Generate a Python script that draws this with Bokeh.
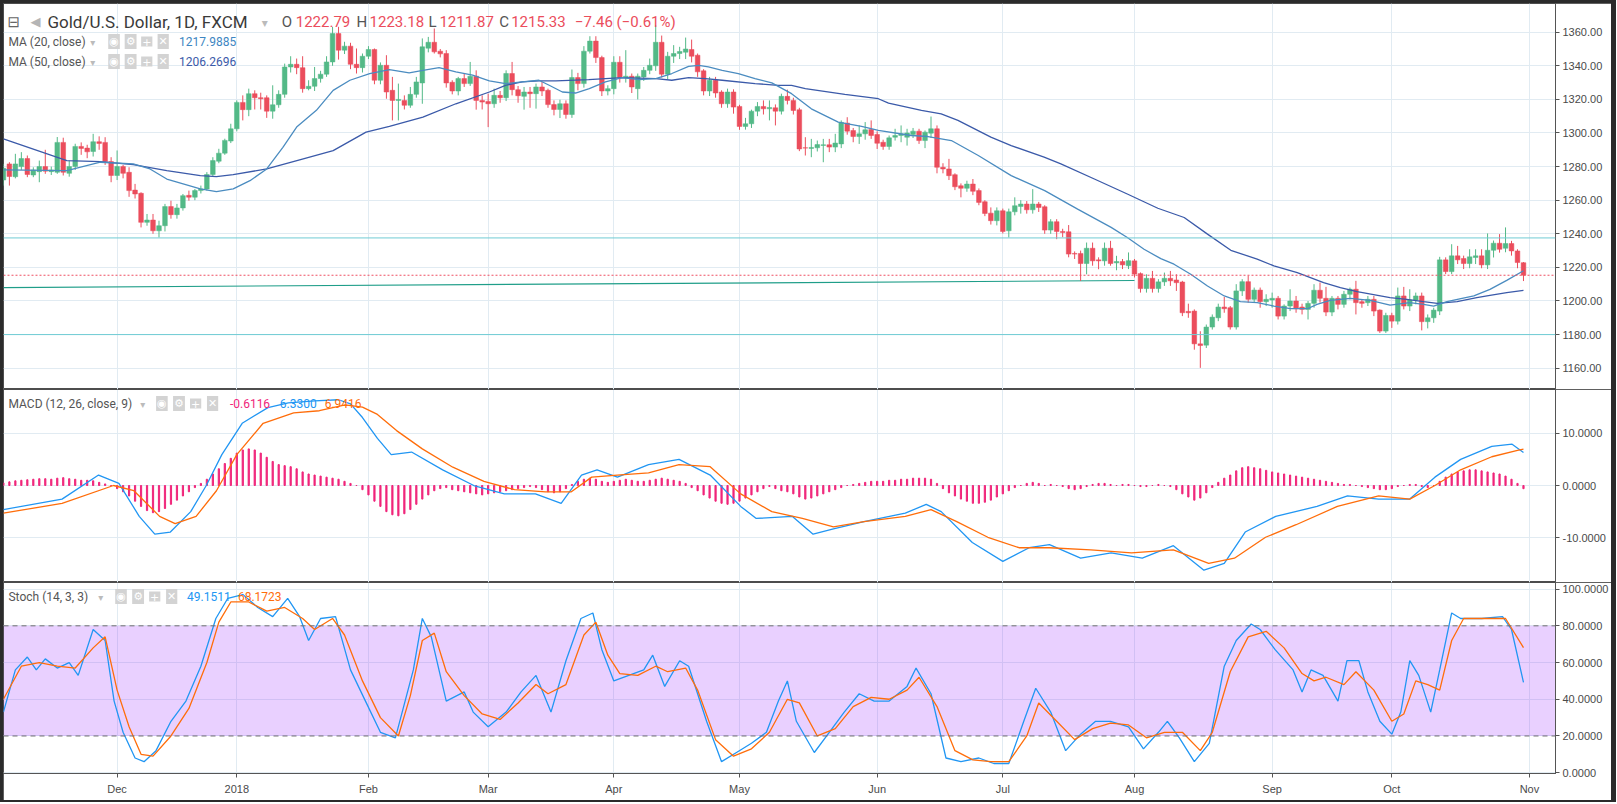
from bokeh.plotting import figure
from bokeh.models import (ColumnDataSource, FixedTicker, NumeralTickFormatter, Span, Label,
                          Range1d, BoxAnnotation)
from bokeh.layouts import column
from bokeh.embed import file_html
from bokeh.resources import INLINE

# ---------------- data (bar index 0 = 2017-11-06 ... 254 = 2018-10-31) ----------------
opens = [1272,1281.6,1274,1280,1284.8,1275,1277,1280,1277,1276.6,1294.4,1276,1280,1292,1291,1289,1294.8,1294.4,1283,1274.7,
 1280,1276.6,1266,1264.1,1246.8,1248.2,1241.8,1244.8,1256.2,1251.4,1255.4,1262.9,1261.8,1265.7,1266.7,1275.3,1283.2,1288,1295.2,1302.5,
 1318.2,1313.9,1323.4,1321,1321,1313,1316.8,1323,1339.3,1340.9,1338.9,1326.4,1327.8,1332.4,1335,1342.3,1359.2,1349.3,1351.7,1340.9,
 1338.9,1345.7,1349.7,1331.4,1340.3,1325.4,1319.4,1319.4,1316.5,1323,1329.8,1350.5,1354,1348.7,1347.3,1330.2,1325,1332.4,1329.4,1333.8,
 1319.4,1318.8,1317.4,1322.4,1321,1335.4,1325.8,1321.8,1324.4,1323.4,1327.4,1325.4,1316.9,1314,1317.4,1311,1333,1329.4,1348.7,1354.7,
 1344.9,1325,1326.4,1342.1,1333,1333.8,1326.4,1333.4,1337.3,1340,1354,1335,1345.7,1347.3,1348.1,1349.7,1346.3,1337,1325,1331.4,
 1324.4,1317.4,1324.4,1315.8,1303.9,1305.5,1313,1315.8,1314.4,1315,1313,1321.8,1319.4,1313.8,1291.2,1290.8,1291.2,1292.6,1293,1291.6,
 1293.5,1305.9,1301.5,1297.9,1299.5,1302.1,1299.1,1294.5,1292,1297.5,1298.5,1297.5,1299.1,1301.1,1295.5,1299.9,1302.5,1279.6,1278.6,1275.2,
 1268.6,1267.1,1269.6,1265.7,1259.1,1252.3,1247.8,1253.7,1241.8,1253.1,1256.3,1257.7,1254.3,1257.7,1256.1,1242.2,1247.2,1241.4,1241.2,1228.3,
 1228.3,1222.3,1231.4,1224.5,1223.9,1231.4,1222.7,1223.5,1221,1223.9,1216.3,1207.4,1213.5,1207.4,1211.4,1213.5,1212.5,1211.3,1193.8,1194,
 1174.5,1173.7,1184.5,1190,1196.4,1196,1184.5,1206,1211.5,1201,1206.5,1199.6,1200.6,1201.6,1191,1197,1200,1196.4,1195,1198.6,
 1206.4,1201.6,1193.4,1201.6,1198,1204,1207,1199.6,1199,1201,1194.6,1182.1,1191.4,1188,1203,1197,1200.6,1203,1187.7,1190,
 1194,1224.5,1217.5,1226.9,1225.3,1222.3,1225.9,1226.9,1221.5,1230.2,1234.4,1231.4,1234.2,1229.8,1222.79]
highs = [1281.6,1282.6,1287.6,1288.6,1286.6,1279.6,1283.6,1290,1280,1297.6,1297.2,1283.6,1293.6,1294.4,1293,1299.5,1298,1297.5,1285.6,1289.6,
 1281,1279.6,1269.7,1264.7,1251.8,1251.8,1247.8,1257.8,1259.7,1257.8,1263.7,1265.7,1266.7,1268.7,1276.7,1285.6,1290.6,1296.6,1305.5,1319.4,
 1322.4,1326.4,1325.4,1324,1322.4,1328.4,1325.4,1341.3,1345.7,1344.3,1345.7,1331.4,1339.3,1337,1345.7,1363.2,1363.2,1354.3,1353.7,1350.3,
 1347.3,1351.7,1350.3,1342,1346.3,1333.4,1329.4,1322.4,1327.4,1333.4,1356.3,1357.2,1362.2,1350,1349.3,1331.4,1333.4,1335.4,1342.3,1337.3,
 1322.4,1323.4,1326.4,1325,1337.3,1342.3,1328,1327.4,1327.4,1329.4,1330.4,1326.4,1319.4,1319.8,1319.4,1337.8,1335.8,1351.7,1357.6,1357.6,
 1346,1328.4,1345.7,1345.7,1349.3,1335.4,1335.4,1339.3,1344.3,1364.2,1358,1348.3,1352.3,1351.3,1356.8,1355.6,1347.3,1338,1333.4,1333.4,
 1325.4,1326.4,1326,1316.8,1309,1313.9,1318.4,1319.4,1319.4,1317,1323.4,1325.8,1321,1315,1297.5,1296.5,1295.5,1296.5,1296.5,1299.5,
 1307.5,1309.4,1303,1304.5,1306.5,1307.5,1301,1296,1298.5,1302.5,1304.5,1302.5,1303,1302.5,1301.5,1309.8,1304.5,1282,1284.6,1276,
 1270,1271.6,1272.6,1267,1260,1255.7,1255.7,1255,1255,1261.7,1260,1259.5,1266.6,1259,1257,1248.7,1248.7,1243,1245.2,1229.5,
 1230,1234.8,1234.8,1226,1234.8,1235.8,1226.9,1225,1228.9,1225,1217,1215.9,1217.9,1213,1216.9,1217.9,1215.9,1212,1198.4,1195,
 1182,1186,1192,1198.4,1202.4,1197,1210,1213,1215,1208,1208,1204,1205,1203,1198,1207,1203,1198.4,1200,1210,
 1211,1208.4,1203,1203,1206,1208,1212,1201,1203,1203,1195,1193,1193,1208,1208.4,1207,1205,1205,1192,1196,
 1226.3,1226,1233.8,1232.8,1227,1230.8,1230.8,1230.8,1240.2,1236,1239.8,1243.8,1235.8,1230.8,1223.18]
lows = [1268.7,1268.7,1273,1278,1273.7,1273.7,1270.7,1275.7,1275,1275.7,1274.7,1274,1278,1287,1285,1286,1290,1281,1270.7,1272,
 1273,1262,1261,1243.8,1244.8,1240,1237.8,1241.4,1249,1249,1253.8,1259.7,1260,1264,1265.7,1274,1282,1287,1294,1301,
 1307.5,1310,1314,1314,1309,1308.5,1315,1321,1336,1335,1324,1325.4,1325,1330,1333.4,1340,1343.7,1347,1338,1335.4,
 1336,1344,1329,1329,1320.4,1307.5,1307.5,1314,1315,1321,1317.4,1348,1347.3,1345,1327,1323,1322.4,1327.4,1328,1313.9,
 1314,1303.5,1315,1318,1319,1322.4,1318,1313.9,1315,1314.5,1322,1315,1310.5,1308.9,1308.5,1309,1325.4,1327,1347.3,1341.7,
 1322,1322.4,1323,1330,1330,1323.8,1320,1331,1335,1337,1333,1332,1341.7,1344,1344,1342,1333.4,1322.4,1322,1321,
 1315,1315,1311.5,1301.9,1302,1303,1310,1311,1307.5,1304.5,1311,1317,1311,1289.2,1286.6,1285.6,1289,1282.6,1288.6,1288.6,
 1291,1299,1294.5,1293.5,1296,1296.5,1290.5,1290,1290,1295.5,1294.5,1292.5,1297,1293.5,1291,1297,1276,1276,1272,1266,
 1261.7,1265,1263,1257,1250.5,1245.5,1245,1240.2,1237.8,1251,1252,1252,1252,1253,1240,1240,1236.8,1238,1226,1225,
 1211.9,1215.9,1221,1218.9,1221,1221,1218.3,1219,1219,1214,1205,1205,1205,1205,1209,1209,1206,1191,1190,1171,
 1160.2,1172,1183,1188,1193,1183,1183,1203,1199,1199,1196,1197,1196,1189,1189,1194,1193,1192,1189,1196,
 1199,1191,1191,1195,1196,1201,1192,1196,1197,1191,1181,1181,1184,1186,1195,1194,1198,1182.5,1183.7,1187,
 1191.6,1216,1216,1222,1219,1219.5,1222,1219.5,1219,1225.9,1228.8,1229,1227,1219.5,1211.87]
closes = [1279,1274.1,1281.6,1284.8,1275.3,1278,1280,1277.3,1278,1294.4,1276.6,1280,1292,1290.8,1288.8,1294.8,1293.8,1283,1274.7,1280,
 1276,1265.7,1263.7,1246.8,1248.2,1241.8,1244.8,1256.2,1251.4,1255.4,1262.7,1261.8,1265.7,1266.7,1275.3,1283.6,1288,1295.6,1302.5,1318.2,
 1313.9,1323.4,1321,1320.4,1313,1316.8,1323,1339.3,1340.9,1338.9,1326.4,1327.8,1332.4,1335,1342.3,1359.2,1349.3,1351.7,1340.9,1338.9,
 1345.7,1349.7,1331.4,1340.3,1324.4,1319.4,1320,1316.5,1323,1330.4,1351.3,1354,1348.3,1347.1,1329.8,1325,1332.4,1329.4,1333.8,1319.4,
 1318.4,1317.4,1322.4,1321,1335.4,1325.8,1322.2,1324.4,1323.4,1327.4,1325,1316.9,1314,1317.4,1311,1333,1329.4,1348.7,1354.7,1344.9,
 1325,1326.4,1342.1,1333,1333.8,1327.4,1333.8,1337.3,1340.3,1354,1335,1345.7,1347.3,1348.5,1350,1345.7,1336.4,1325,1331.4,1323.8,
 1317.4,1324.4,1315.4,1303.9,1305.5,1313,1315.8,1314.4,1315.2,1313,1321.8,1319.4,1313.4,1290.5,1291,1291.4,1293.1,1293,1291.6,1294,
 1306.3,1301.1,1297.9,1299.5,1301.9,1298.5,1293.9,1292,1297.1,1298.5,1299.5,1300,1301.1,1295.5,1300.5,1302.5,1279.6,1278.6,1274.6,1268,
 1267.1,1269.6,1265.3,1258.7,1252.1,1247.8,1253.7,1241.4,1253.1,1256.7,1257.7,1254.3,1257.7,1255.7,1242.2,1247.2,1241.4,1240.8,1227.9,1227.9,
 1222.3,1231.4,1223.9,1223.9,1231.4,1222.3,1223.5,1221.5,1224,1216,1207.4,1213.5,1207.4,1211.4,1213.5,1212,1210.9,1193,1193,1174.5,
 1173.5,1184.5,1190.4,1196.4,1195.4,1184.5,1206,1211.5,1201,1206.5,1199.6,1201,1201.6,1191,1197,1200,1195.4,1195,1198.6,1206.4,
 1201.6,1193.4,1201.6,1198,1204,1207,1199,1198.6,1201,1194,1182.1,1191.4,1188,1203,1197,1200.6,1203,1187.7,1190,1194.6,
 1224.5,1217.5,1226.9,1224.5,1222.3,1226.3,1226.9,1221.5,1230.2,1234.4,1230.8,1234.2,1229.8,1222.9,1215.33]

# moving averages (read at vertices)
ma20_x = [0,10.6,16.2,21.7,24.5,27.3,32.9,35.6,38.4,41.2,44,46.7,49,52.3,55.1,57.9,61.2,64.5,67.8,70.1,72.8,75.6,78.4,81.2,83.9,86.7,89.5,91.2,93.4,95.6,97.9,100.6,103.4,106.2,109,111.7,114.5,116.2,117.8,120.1,122.8,125.6,128.4,131.7,135,139.5,143.4,146.2,151.7,154.5,158.4,162.9,168.4,174,179.5,185.1,187.8,190.6,193.4,195.6,198.4,201.2,204,206.7,209.5,212.3,215.1,217.9,219.5,221.7,225.1,228.4,231.7,235,237.3,239,241.2,245.7,248.4,251.2,254]
ma20_y = [1278,1277.6,1282.6,1281.6,1278.6,1272.6,1266.7,1265.1,1266.7,1271.6,1278.6,1291.5,1303.5,1313.5,1325.4,1331.4,1335.4,1337.7,1335.8,1337.3,1338.9,1336.4,1334.4,1331,1329.4,1330.4,1331.4,1328.4,1324.4,1323.8,1326.4,1330.4,1333,1331.8,1332.4,1335.4,1339.7,1340.3,1339.3,1337.3,1335.4,1332.4,1329.8,1323.4,1314.4,1306.5,1303.9,1301.5,1298.5,1297.9,1295.5,1286.6,1274.6,1265.7,1254.7,1243.8,1237.8,1230.8,1225.2,1221.9,1215.9,1208.9,1203,1199.6,1199,1197,1195.4,1195.4,1198,1200.4,1201.6,1200.4,1197.6,1199,1198,1197,1199.6,1203,1206.9,1212.3,1217.99]
ma50_x = [0,10.6,16.2,21.7,27.3,32.9,35.6,38.4,44,49.5,55.1,60.6,64.5,70.1,75.6,81.2,83.9,86.7,89.5,92.3,97.8,103.4,109,111.7,114.5,117.3,120.1,125.6,129.5,131.7,134,140.6,146.2,147.9,153.4,156.7,159.5,165,168.4,173.9,176.7,182.3,187.8,192.9,197.3,201.2,205.1,209.5,212.3,216.2,220.6,223.4,226.2,231.7,234.5,237.3,239.6,242.9,246.2,248.4,251.2,254]
ma50_y = [1296.5,1283.6,1283,1281.2,1277.6,1274.6,1274,1275.2,1278.6,1284,1289.5,1300.5,1303.9,1309.5,1317.4,1324.4,1328.4,1330.4,1331,1331,1331.8,1333,1332.4,1331.4,1333,1332.4,1331.4,1329.4,1328.4,1328.4,1326.4,1323,1320.4,1317.8,1313.4,1311.4,1307.5,1297.5,1292.5,1285.6,1281.6,1272.6,1263.7,1255.2,1249.7,1239.8,1230.2,1224.9,1220.9,1216.9,1210.9,1207.9,1205.6,1202,1201,1199.6,1198.6,1199.6,1202,1203.4,1205,1206.27]

# MACD (read at vertices)
macd_x = [0,9.8,15.9,19.3,22.7,25.3,27.9,31.3,33.9,36.5,39.9,44.2,47.6,52,56,58,60,62.5,64.8,68.2,73.4,78.6,83.7,88.9,93.2,96.6,99.2,102.6,107.8,112.9,118.1,123.2,125.8,131.8,135.3,138.7,143.8,150.7,154.2,156.7,161.9,167,171.4,174.8,180,185.1,190.3,195.5,200.6,204,207.5,212.6,219.5,224.6,229.8,235,239.2,243.5,248.7,252.1,254]
macd_y = [-4.6,-2.6,2.0,0.4,-5.9,-9.3,-8.9,-5,0,5.9,11.9,14.9,15.8,16.2,16.4,15.6,13,9,5.9,6.4,3,0,-1.6,-1.6,-3.4,2,3,1.6,4,5,2,-4,-6.3,-5.9,-9.3,-8.3,-6.9,-5.3,-3.6,-5,-10.9,-14.5,-11.9,-11.3,-13.9,-12.9,-13.9,-11.5,-16.2,-14.9,-8.9,-5.9,-4,-2,-2.6,-2.6,1.6,5,7.5,7.9,6.33]
signal_x = [0,9.8,18.4,21.8,26.1,28.7,32.2,35.6,39,43.4,48.5,52.8,57.1,60,62.5,65.7,70,75.1,80.3,85.4,90.6,94.9,98.3,102.6,107.8,112.9,118.1,123.2,128.4,133.5,138.7,143.8,150.7,155,159.3,164.5,169.7,174.8,181.7,188.5,195.5,201.4,205.7,210.9,216,222.9,229.8,235,239.2,243.5,248.7,253,254]
signal_y = [-5.3,-3.4,0,-1,-5.9,-7.3,-5.9,-1,5.9,11.9,13.9,14.3,15.4,15.0,13.6,10.5,7,3.5,0.8,-0.8,-1.2,-1.2,1.6,2,2.4,4,3.6,-1.6,-5,-6.3,-7.9,-6.9,-5.9,-4.6,-6.9,-9.9,-11.9,-11.9,-12.3,-12.9,-12.3,-14.9,-13.9,-9.9,-7.5,-4,-2,-2.6,0,3,5.5,6.7,6.94]
hist = ([0.5,0.7,0.9,1.0,1.1,1.2,1.3,1.3,1.2,1.4,1.5,1.3,1.2,1.0,1.0,0.9,0.6,0.3,0.0]
 + [-0.6,-1.2,-2.0,-3.0,-4.0,-4.8,-5.2,-5.0,-4.4,-3.6,-2.8,-2.0,-1.2,-0.4,0.4]
 + [1.2,2.2,3.2,4.2,5.2,6.2,6.8,7.0,6.8,6.2,5.4,4.6,4.0,3.8,3.6,3.2,2.6,2.2,2.0,1.8,1.6,1.4,1.2,0.8,0.4,0.0]
 + [-0.8,-1.8,-3.0,-4.0,-5.0,-5.6,-5.8,-5.4,-4.6,-3.6,-2.6,-1.8,-1.0]
 + [-0.6,-0.4,-0.8,-1.0,-1.2,-1.4,-1.6,-1.8,-1.6,-1.4,-1.2,-1.0,-0.8,-0.6,-0.4,-0.2,-0.4,-0.8,-1.2,-1.4,-1.2,-0.6,0.2]
 + [0.8,1.2,1.4,1.2,0.8,0.6,0.8,1.0,1.2,1.0,0.8,0.8,1.0,1.2,1.4,1.2,1.0,0.8,0.4]
 + [-0.4,-1.0,-1.8,-2.4,-3.0,-3.4,-3.6,-3.4,-3.0,-2.4,-1.8,-1.2,-0.6,-0.2]
 + [-0.6,-1.0,-1.2,-1.6,-2.2,-2.6,-2.4,-2.0,-1.6,-1.2,-0.8,-0.4,0.0,0.2]
 + [0.4,0.6,0.8,0.8,0.8,1.0,1.0,1.2,1.2,1.4,1.4,1.4,1.2,0.4,-0.6,-1.4]
 + [-2.0,-2.6,-3.0,-3.4,-3.4,-3.2,-2.8,-2.2,-1.6,-1.0,-0.4,0.0,0.4,0.6,0.4,0.0]
 + [0.2,0.0,-0.2,-0.6,-0.8,-0.6,-0.2,0.2,0.4,0.4,0.2,0.0,0.2,0.2,0.0,-0.2,-0.2,0.0,0.2,0.0,-0.2,-0.8,-1.6,-2.2]
 + [-2.8,-2.4,-1.4,-0.4,0.6,1.4,2.0]
 + [2.8,3.4,3.6,3.4,3.2,2.9,2.6,2.4,2.2,2.0,1.8,1.6,1.4,1.2,1.0,0.8,0.6,0.4]
 + [0.2,0.2,0.0,-0.2,-0.4,-0.6,-0.8,-0.8,-0.6,-0.2,0.0,0.2,0.2,-0.2,-0.4]
 + [0.0,0.8,1.6,2.2,2.6,2.8,3.0,3.0,2.8,2.6,2.4,2.2,1.8,1.2,0.4,-0.6116])

# Stochastic (read at vertices)
stk_x = [0,2,4,5.5,7,9,11,12.5,15,17,18.5,20,22,23.5,25.5,28,30.5,33,35.5,37.5,40,42.5,45,47.5,49.5,51,53,55.5,58,60.5,63,65.5,68.5,70,71.5,74,77,78.5,81,84,86.5,89,91.5,94,96.5,98.5,100,102,104.5,107,108.5,110.5,113,114.5,117.5,120,122.5,125,127.5,129.5,131,132.5,135.5,138,140.5,143,145.5,148,151,152.5,155,157.5,160,163,165.5,168,170.5,172.5,175,177.5,180,182.5,185,188,190.5,193,194.5,196.5,199,201.5,204,206,208.5,210,212.5,215.5,217,218.5,220.5,223,224.5,226.5,228,230,232,233.5,235,236.5,238.5,240,242,243.5,247,250.5,252,254]
stk_y = [33,56,63,56,62,57,60,53,78,72,39,22,8,6,12,28,39,58,84,95,97,90,85,95,85,72,84,85,56,39,22,19,56,84,74,39,44,33,25,33,44,53,33,61,84,87,67,50,53,56,64,47,61,58,28,6,11,16,22,39,50,28,11,22,33,43,39,39,47,57,43,8,6,8,5,5,28,46,33,12,21,28,28,25,13,22,28,19,6,16,58,72,81,78,67,56,44,56,53,39,61,61,44,28,21,33,61,53,33,56,87,84,84,85,78,49.15]
std_x = [0,3,6,9,12,15,17,19,21,23,25,28,31,34,36,38,41,44,47,50,52,55,57,60,63,66,68,70,72,74,77,80,83,86,89,91,94,97,99,101,103,106,109,111,114,116,119,122,125,128,131,133,136,139,142,145,148,151,153,156,159,162,165,168,171,173,176,179,182,185,188,191,194,197,200,202,205,208,211,214,217,219,221,224,226,229,232,234,236,238,240,242,244,248,251,254]
std_y = [40,58,60,58,57,68,74,45,25,10,9,20,35,60,82,93,93,88,90,84,78,84,75,50,30,20,42,72,76,55,42,32,29,38,48,43,48,75,82,64,54,53,58,55,57,45,18,9,13,22,40,38,20,24,36,41,40,45,52,36,12,7,6,6,20,38,28,18,24,27,26,19,22,22,12,22,55,74,77,68,54,50,52,48,55,45,28,32,50,48,45,72,84,84,84,68.17]

price_ticks = [1160, 1180, 1200, 1220, 1240, 1260, 1280, 1300, 1320, 1340, 1360]
macd_ticks = [-10, 0, 10]
stoch_ticks = [0, 20, 40, 60, 80, 100]
month_ticks = [19, 39, 61, 81, 102, 123, 146, 167, 189, 212, 232, 255]
month_labels = ["Dec", "2018", "Feb", "Mar", "Apr", "May", "Jun", "Jul", "Aug", "Sep", "Oct", "Nov"]
support_levels = [1237.54, 1180.01]
last_close = 1215.33
trend_x = [0, 189]
trend_y = [1208.0, 1212.2]

# ---------------- styling / geometry ----------------
UP, DOWN = "#53b987", "#eb4d5c"
GRID = "#e1ebf2"
AXIS = "#555555"
TXT = "#4a4a4a"
FONT_AX = "Liberation Sans"
FONT_LG = "Roboto"
W = 1608
RB = 52
X0, X1 = 0.017, 259.35
xr = Range1d(X0, X1)

def make_fig(h, y0, y1, ticks, fmt, bottom=0, xaxis=False):
    p = figure(width=W, height=h, x_range=xr, y_range=Range1d(y0, y1),
               output_backend="svg", toolbar_location=None,
               x_axis_location="below" if xaxis else None, y_axis_location="right",
               min_border_left=0, min_border_right=RB, min_border_top=0, min_border_bottom=bottom)
    p.background_fill_color = "white"
    p.border_fill_color = "white"
    p.outline_line_color = "#4d4d4d"
    p.outline_line_width = 1
    p.xgrid.ticker = FixedTicker(ticks=month_ticks)
    p.ygrid.ticker = FixedTicker(ticks=ticks)
    p.xgrid.grid_line_color = GRID
    p.ygrid.grid_line_color = GRID
    ax = p.yaxis[0]
    ax.ticker = FixedTicker(ticks=ticks)
    ax.formatter = NumeralTickFormatter(format=fmt)
    ax.major_label_text_font = FONT_AX
    ax.major_label_text_font_size = "11px"
    ax.major_label_text_color = TXT
    ax.axis_line_color = AXIS
    ax.major_tick_line_color = AXIS
    ax.major_tick_out = 4
    ax.major_tick_in = 0
    ax.minor_tick_out = 0
    ax.minor_tick_in = 0
    ax.major_label_standoff = 3
    if xaxis:
        xa = p.xaxis[0]
        xa.ticker = FixedTicker(ticks=month_ticks)
        xa.major_label_overrides = {t: l for t, l in zip(month_ticks, month_labels)}
        xa.major_label_text_font = FONT_AX
        xa.major_label_text_font_size = "11px"
        xa.major_label_text_color = TXT
        xa.axis_line_color = AXIS
        xa.major_tick_line_color = AXIS
        xa.major_tick_out = 4
        xa.major_tick_in = 0
        xa.minor_tick_out = 0
        xa.minor_tick_in = 0
        xa.major_label_standoff = 5
    return p

# pane geometry in page pixels (for placing legend texts)
PANES = {
    "main": (3, 389, 1377.08, 1147.32),
    "macd": (389, 582, 18.36, -18.55),
    "stoch": (582, 773, 103.6, -0.44),
}

def to_data(pane, px, py):
    t, b, ytop, ybot = PANES[pane]
    return X0 + (px - 3) / 6.0, ytop - (py - t) * (ytop - ybot) / (b - t)

def txt(p, pane, px, py, text, color=TXT, size="12px", font=FONT_LG, bg=None, style="normal", pad=0):
    x, y = to_data(pane, px, py)
    kw = {}
    if bg is not None:
        kw = dict(background_fill_color=bg, background_fill_alpha=1.0, padding=pad)
    p.add_layout(Label(x=x, y=y, text=text, text_color=color, text_font_size=size, text_font=font,
                       text_font_style=style, text_align="left", text_baseline="middle", **kw))

def icons(p, pane, px, py, step):
    for k, g in enumerate(["◉", "⚙", "+", "✕"]):
        txt(p, pane, px + k * step, py, g, color="white", size="11px", font="DejaVu Sans", bg="#d3d3d3", pad=1)

# ---------------- main pane ----------------
idx = list(range(len(closes)))
up = [c >= o for o, c in zip(opens, closes)]
src = ColumnDataSource(dict(x=idx, o=opens, h=highs, l=lows, c=closes,
                            top=[max(o, c) for o, c in zip(opens, closes)],
                            bot=[min(o, c) for o, c in zip(opens, closes)],
                            col=[UP if u else DOWN for u in up]))

pm = make_fig(386, 1147.32, 1377.08, price_ticks, "0.00")
pm.line(trend_x, trend_y, line_color="#1f9e89", line_width=1.2)
for lv in support_levels:
    pm.add_layout(Span(location=lv, dimension="width", line_color="#6fcbd4", line_width=1))
pm.add_layout(Span(location=last_close, dimension="width", line_color="#ef4f62", line_width=1, line_dash="2 2"))
pm.segment(x0="x", y0="h", x1="x", y1="l", color="col", line_width=1, source=src)
pm.vbar(x="x", top="top", bottom="bot", width=0.78, fill_color="col", line_color="col", line_width=0.5, source=src)
pm.line(ma50_x, ma50_y, line_color="#3b5aa9", line_width=1.3)
pm.line(ma20_x, ma20_y, line_color="#4b8cc0", line_width=1.3)

# axis price tags
for lv in support_levels:
    pm.add_layout(Label(x=X1, y=lv, x_offset=1, text=f"{lv:.2f}", text_color="#1f1f1f", text_font=FONT_AX,
                        text_font_size="12px", text_baseline="middle", background_fill_color="#7fcfd9",
                        background_fill_alpha=1.0, padding=3))
pm.add_layout(Label(x=X1, y=last_close, x_offset=1, text=f"{last_close:.2f}", text_color="white", text_font=FONT_AX,
                    text_font_size="12px", text_font_style="bold", text_baseline="middle",
                    background_fill_color="#eb4d5c", background_fill_alpha=1.0, padding=3))

# legend texts
txt(pm, "main", 7, 21, "⊟", color="#666666", size="15px", font="DejaVu Sans")
txt(pm, "main", 30, 21, "◀", color="#b5b5b5", size="13px", font="DejaVu Sans")
txt(pm, "main", 47, 21, "Gold/U.S. Dollar, 1D, FXCM", color="#3a3a3a", size="17px")
txt(pm, "main", 262, 22, "▾", color="#bbbbbb", size="12px", font="DejaVu Sans")
ohlc = [(282, 296, "O", "1222.79"), (357, 370, "H", "1223.18"), (429, 440, "L", "1211.87"), (500, 512, "C", "1215.33")]
for px, pv, k, v in ohlc:
    txt(pm, "main", px, 21, k, color="#555555", size="15px")
    txt(pm, "main", pv, 21, v, color=DOWN, size="15px")
txt(pm, "main", 576, 21, "−7.46 (−0.61%)", color=DOWN, size="15px")
for py, name, val, colr in [(41, "MA (20, close)", "1217.9885", "#3d86c2"), (61, "MA (50, close)", "1206.2696", "#3b5aa9")]:
    txt(pm, "main", 8, py, name, color="#555555", size="12px")
    txt(pm, "main", 90, py + 1, "▾", color="#bbbbbb", size="10px", font="DejaVu Sans")
    icons(pm, "main", 108, py, step=16.5)
    txt(pm, "main", 179, py, val, color=colr, size="12px")

# ---------------- MACD pane ----------------
pc = make_fig(193, -18.55, 18.36, macd_ticks, "0.0000")
pc.vbar(x=idx, top=hist, bottom=0, width=0.2, color="#f0257a")
pc.line(macd_x, macd_y, line_color="#2196f3", line_width=1.3)
pc.line(signal_x, signal_y, line_color="#ff6d0a", line_width=1.3)
txt(pc, "macd", 8, 403, "MACD (12, 26, close, 9)", color="#555555", size="12px")
txt(pc, "macd", 140, 404, "▾", color="#bbbbbb", size="10px", font="DejaVu Sans")
icons(pc, "macd", 156, 403, step=17)
txt(pc, "macd", 230, 403, "-0.6116", color="#f0257a", size="12px")
txt(pc, "macd", 280, 403, "6.3300", color="#2196f3", size="12px")
txt(pc, "macd", 325, 403, "6.9416", color="#ff6d0a", size="12px")

# ---------------- Stoch pane ----------------
ps = make_fig(218, -0.44, 103.6, stoch_ticks, "0.0000", bottom=27, xaxis=True)
ps.add_layout(BoxAnnotation(bottom=20, top=80, fill_color="#9013fe", fill_alpha=0.2, line_alpha=0, level="underlay"))
ps.add_layout(Span(location=80, dimension="width", line_color="#707070", line_width=1, line_dash="5 4"))
ps.add_layout(Span(location=20, dimension="width", line_color="#707070", line_width=1, line_dash="5 4"))
ps.line(stk_x, stk_y, line_color="#2196f3", line_width=1.3)
ps.line(std_x, std_y, line_color="#ff6d0a", line_width=1.3)
txt(ps, "stoch", 8, 596, "Stoch (14, 3, 3)", color="#555555", size="12px")
txt(ps, "stoch", 98, 597, "▾", color="#bbbbbb", size="10px", font="DejaVu Sans")
icons(ps, "stoch", 115, 596, step=17)
txt(ps, "stoch", 187, 596, "49.1511", color="#2196f3", size="12px")
txt(ps, "stoch", 238, 596, "68.1723", color="#ff6d0a", size="12px")

layout = column(pm, pc, ps, spacing=0,
                styles={"position": "absolute", "left": "0px", "top": "0px",
                        "background-color": "#2b2b2b", "padding": "3px 5px 2px 3px"})
open("out.html", "w").write(file_html(layout, INLINE))
